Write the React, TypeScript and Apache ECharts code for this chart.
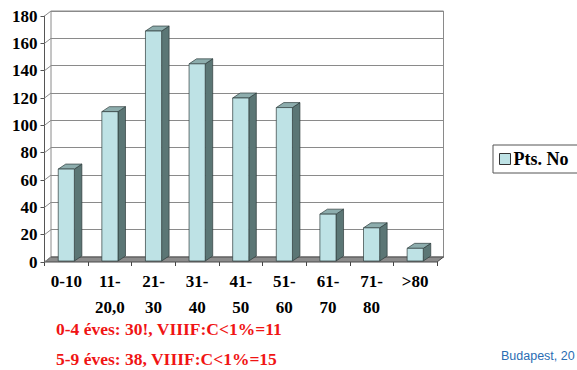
import React, { useEffect, useRef } from "react";
import * as echarts from "echarts";

// Age groups (two-line labels) and patient counts per group
const categories = ["0-10", "11-\n20,0", "21-\n30", "31-\n40", "41-\n50", "51-\n60", "61-\n70", "71-\n80", ">80"];
const patients = [68, 110, 169, 145, 120, 113, 35, 25, 10];
const yTicks = [0, 20, 40, 60, 80, 100, 120, 140, 160, 180];
const seriesName = "Pts. No";
const notes = ["0-4 éves: 30!, VIIIF:C<1%=11", "5-9 éves: 38, VIIIF:C<1%=15"];
const footer = "Budapest, 20";

// 3D look: depth offset of the back wall and of each column
const WALL_DX = 6.5;
const WALL_DY = -5;
const BAR_DX = 7.5;
const BAR_DY = -5;

const SERIF = "'Liberation Serif', 'Times New Roman', serif";
const FRONT = "#bee2e5";
const SIDE = "#5b7675";
const TOP = "#8dadad";
const EDGE = "#2e3c3c";

export default function App() {
  const ref = useRef<HTMLDivElement>(null);

  useEffect(() => {
    if (!ref.current) return;
    const chart = echarts.init(ref.current, null, { renderer: "svg" });

    const yMin = yTicks[0];
    const yMax = yTicks[yTicks.length - 1];
    const yStep = yTicks[1] - yTicks[0];

    const option: any = {
      animation: false,
      backgroundColor: "#ffffff",
      grid: [
        // front plane: axes, labels and columns
        { left: 44.5, top: 16, width: 392.5, height: 246, show: false },
        // back wall with the gridlines
        {
          left: 44.5 + WALL_DX,
          top: 16 + WALL_DY,
          width: 392.5,
          height: 246,
          show: true,
          borderColor: "#8a8a8a",
          borderWidth: 1,
          backgroundColor: "#ffffff",
        },
      ],
      xAxis: [
        {
          gridIndex: 0,
          type: "category",
          data: categories,
          boundaryGap: true,
          axisLine: { show: false },
          axisTick: { show: true, length: 4, lineStyle: { color: "#444" } },
          axisLabel: {
            margin: 6,
            interval: 0,
            fontFamily: SERIF,
            fontWeight: "bold",
            fontSize: 17,
            lineHeight: 26,
            color: "#000",
          },
          splitLine: { show: false },
        },
        { gridIndex: 1, type: "category", data: categories, show: false },
      ],
      yAxis: [
        {
          gridIndex: 0,
          type: "value",
          min: yMin,
          max: yMax,
          interval: yStep,
          axisLine: { show: true, lineStyle: { color: "#555" } },
          axisTick: { show: true, length: 4, lineStyle: { color: "#555" } },
          axisLabel: {
            margin: 7,
            fontFamily: SERIF,
            fontWeight: "bold",
            fontSize: 17,
            color: "#000",
          },
          splitLine: { show: false },
        },
        {
          gridIndex: 1,
          type: "value",
          min: yMin,
          max: yMax,
          interval: yStep,
          axisLine: { show: false },
          axisTick: { show: false },
          axisLabel: { show: false },
          splitLine: { show: true, lineStyle: { color: "#8a8a8a", width: 1 } },
        },
      ],
      legend: {
        left: 493,
        top: 145,
        orient: "vertical",
        padding: [5, 12, 5, 6],
        borderColor: "#555",
        borderWidth: 1,
        itemWidth: 11,
        itemHeight: 11,
        data: [
          {
            name: seriesName,
            icon: "rect",
            itemStyle: { color: FRONT, borderColor: "#333", borderWidth: 1 },
          },
        ],
        textStyle: {
          fontFamily: SERIF,
          fontWeight: "bold",
          fontSize: 18,
          color: "#000",
          padding: [0, 0, 0, -2],
        },
      },
      series: [
        {
          // floor strip and the slanted gridlines on the left wall
          type: "custom",
          xAxisIndex: 0,
          yAxisIndex: 0,
          clip: false,
          silent: true,
          z: 1,
          data: [[0, 0]],
          renderItem: (params: any, api: any) => {
            const cs = params.coordSys;
            const x0 = cs.x;
            const x1 = cs.x + cs.width;
            const yb = api.coord([0, yMin])[1];
            const children: any[] = [
              {
                type: "polygon",
                shape: {
                  points: [
                    [x0, yb],
                    [x1, yb],
                    [x1 + WALL_DX, yb + WALL_DY],
                    [x0 + WALL_DX, yb + WALL_DY],
                  ],
                },
                style: { fill: "#8c8c8c", stroke: "#4a4a4a", lineWidth: 1 },
              },
            ];
            yTicks.forEach((t) => {
              const y = api.coord([0, t])[1];
              children.push({
                type: "line",
                shape: { x1: x0, y1: y, x2: x0 + WALL_DX, y2: y + WALL_DY },
                style: { stroke: "#8a8a8a", lineWidth: 1 },
              });
            });
            return { type: "group", children };
          },
        },
        {
          name: seriesName,
          type: "custom",
          xAxisIndex: 0,
          yAxisIndex: 0,
          clip: false,
          z: 3,
          itemStyle: { color: FRONT },
          encode: { x: 0, y: 1 },
          data: patients.map((v, i) => [i, v]),
          renderItem: (params: any, api: any) => {
            const i = api.value(0);
            const v = api.value(1);
            const top = api.coord([i, v]);
            const base = api.coord([i, 0]);
            const w = api.size([1, 0])[0] * 0.37;
            const xl = top[0] - w / 2;
            const xr = top[0] + w / 2;
            const yt = top[1];
            const yb = base[1] - 1;
            return {
              type: "group",
              children: [
                {
                  type: "polygon",
                  shape: {
                    points: [
                      [xr, yt],
                      [xr + BAR_DX, yt + BAR_DY],
                      [xr + BAR_DX, yb + BAR_DY],
                      [xr, yb],
                    ],
                  },
                  style: { fill: SIDE, stroke: EDGE, lineWidth: 0.7 },
                },
                {
                  type: "polygon",
                  shape: {
                    points: [
                      [xl, yt],
                      [xr, yt],
                      [xr + BAR_DX, yt + BAR_DY],
                      [xl + BAR_DX, yt + BAR_DY],
                    ],
                  },
                  style: { fill: TOP, stroke: EDGE, lineWidth: 0.7 },
                },
                {
                  type: "rect",
                  shape: { x: xl, y: yt, width: w, height: yb - yt },
                  style: { fill: FRONT, stroke: EDGE, lineWidth: 0.7 },
                },
              ],
            };
          },
        },
      ],
      graphic: [
        {
          type: "text",
          left: 56,
          top: 320,
          style: {
            text: notes[0],
            fill: "#f01414",
            font: `bold 17.5px ${SERIF}`,
          },
        },
        {
          type: "text",
          left: 56,
          top: 350,
          style: {
            text: notes[1],
            fill: "#f01414",
            font: `bold 17.5px ${SERIF}`,
          },
        },
        {
          type: "text",
          left: 501,
          top: 349,
          style: {
            text: footer,
            fill: "#2a6db3",
            font: "12.5px 'Liberation Sans', Arial, sans-serif",
          },
        },
      ],
    };

    chart.setOption(option);
    return () => chart.dispose();
  }, []);

  return (
    <div
      ref={ref}
      style={{ position: "fixed", left: 0, top: 0, width: 577, height: 370, background: "#fff" }}
    />
  );
}
